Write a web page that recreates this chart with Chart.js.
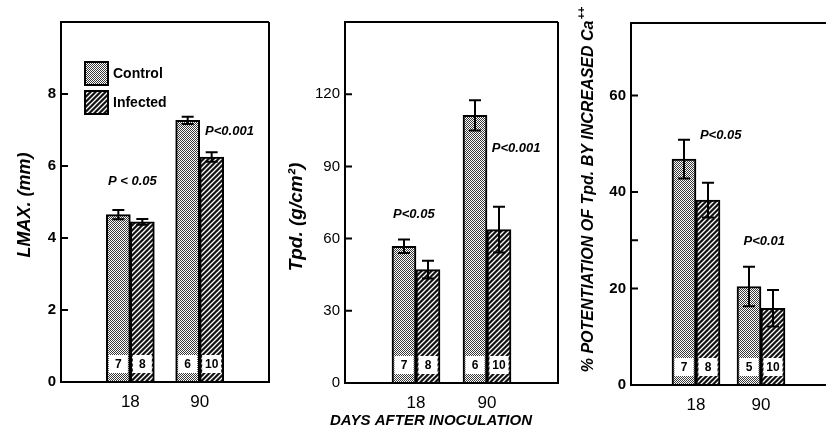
<!DOCTYPE html>
<html>
<head>
<meta charset="utf-8">
<script src="https://cdn.jsdelivr.net/npm/chart.js@4.4.0/dist/chart.umd.min.js"></script>
<style>
  html, body { margin: 0; padding: 0; background: #fff; overflow: hidden; }
  #wrap { position: relative; width: 836px; height: 444px; }
  canvas { position: absolute; left: 0; top: 0; }
</style>
</head>
<body>
<div id="wrap">
  <canvas id="c1" width="836" height="444"></canvas>
  <canvas id="c2" width="836" height="444"></canvas>
  <canvas id="c3" width="836" height="444"></canvas>
</div>
<script>
// Categories
var days = ['18', '90'];
var groupNames = ['Control', 'Infected'];

// Panel 1: L max (mm)
var lmaxControl = [4.65, 7.27];
var lmaxInfected = [4.45, 6.25];
var lmaxControlErr = [0.13, 0.1];
var lmaxInfectedErr = [0.08, 0.13];
var lmaxTicks = [0, 2, 4, 6, 8];
var lmaxTickLabels = ['0', '2', '4', '6', '8'];

// Panel 2: Tpd (g/cm2)
var tpdControl = [56.8, 111.2];
var tpdInfected = [47.1, 63.7];
var tpdControlErr = [2.8, 6.3];
var tpdInfectedErr = [3.7, 9.5];
var tpdTicks = [0, 30, 60, 90, 120];
var tpdTickLabels = ['0', '30', '60', '90', '120'];

// Panel 3: % potentiation of Tpd by increased Ca++
var potControl = [46.8, 20.4];
var potInfected = [38.3, 15.9];
var potControlErr = [4.0, 4.1];
var potInfectedErr = [3.6, 3.8];
var potTicks = [0, 20, 30, 40, 60];
var potTickLabels = ['0', '20', '', '40', '60'];

// Number of animals per bar
var nControl1 = [7, 6], nInfected1 = [8, 10];
var nControl2 = [7, 6], nInfected2 = [8, 10];
var nControl3 = [7, 5], nInfected3 = [8, 10];

// Significance notes
var pNotes1 = ['P < 0.05', 'P<0.001'];
var pNotes2 = ['P<0.05', 'P<0.001'];
var pNotes3 = ['P<0.05', 'P<0.01'];

var FONT = "'Liberation Sans', Arial, sans-serif";
Chart.defaults.font.family = FONT;
Chart.defaults.color = '#000';

function makeStipple() {
  var c = document.createElement('canvas');
  c.width = 2; c.height = 2;
  var x = c.getContext('2d');
  x.fillStyle = '#fff'; x.fillRect(0, 0, 2, 2);
  x.fillStyle = '#3a3a3a'; x.fillRect(0, 0, 1, 1); x.fillRect(1, 1, 1, 1);
  return x.createPattern(c, 'repeat');
}

function makeHatch() {
  var s = 5;
  var c = document.createElement('canvas');
  c.width = s; c.height = s;
  var x = c.getContext('2d');
  x.fillStyle = '#111'; x.fillRect(0, 0, s, s);
  x.strokeStyle = '#fff'; x.lineWidth = 1.3;
  x.beginPath();
  x.moveTo(0, s); x.lineTo(s, 0);
  x.moveTo(-1, 1); x.lineTo(1, -1);
  x.moveTo(s - 1, s + 1); x.lineTo(s + 1, s - 1);
  x.stroke();
  return x.createPattern(c, 'repeat');
}

var stipple = makeStipple();
var hatch = makeHatch();

// draws frame, inward ticks, error bars, n boxes, notes, titles, legend
function decor(cfg) {
  return {
    id: 'decor',
    afterDatasetsDraw: function(chart) {
      var ctx = chart.ctx, a = chart.chartArea;
      var xs = chart.scales.x, ys = chart.scales.y;
      ctx.save();
      ctx.strokeStyle = '#000';
      ctx.fillStyle = '#000';
      ctx.lineWidth = 2;

      // frame
      ctx.beginPath();
      ctx.moveTo(a.right, a.top);
      ctx.lineTo(a.left, a.top);
      ctx.lineTo(a.left, a.bottom);
      ctx.lineTo(a.right, a.bottom);
      if (cfg.rightSide) ctx.lineTo(a.right, a.top);
      ctx.stroke();

      // inward ticks
      ctx.beginPath();
      ys.ticks.forEach(function(t) {
        var y = ys.getPixelForValue(t.value);
        ctx.moveTo(a.left, y);
        ctx.lineTo(a.left + 7, y);
      });
      ctx.stroke();

      // error bars and n boxes
      [0, 1].forEach(function(d) {
        var meta = chart.getDatasetMeta(d);
        var vals = chart.data.datasets[d].data;
        meta.data.forEach(function(bar, i) {
          var v = vals[i];
          if (v === null || v === undefined) return;
          var e = cfg.err[d][i - 1];
          var yt = ys.getPixelForValue(v + e), yb = ys.getPixelForValue(v - e);
          ctx.lineWidth = 2;
          ctx.beginPath();
          ctx.moveTo(bar.x, yt); ctx.lineTo(bar.x, yb);
          ctx.moveTo(bar.x - 6, yt); ctx.lineTo(bar.x + 6, yt);
          ctx.moveTo(bar.x - 6, yb); ctx.lineTo(bar.x + 6, yb);
          ctx.stroke();

          var w = bar.width - 5;
          ctx.fillStyle = '#fff';
          ctx.fillRect(bar.x - w / 2, a.bottom - 27, w, 18);
          ctx.fillStyle = '#000';
          ctx.font = 'bold 12px ' + FONT;
          ctx.textAlign = 'center';
          ctx.textBaseline = 'middle';
          ctx.fillText(String(cfg.n[d][i - 1]), bar.x, a.bottom - 17.5);
        });
      });

      // significance notes
      ctx.font = 'italic bold 13px ' + FONT;
      ctx.textAlign = 'center';
      ctx.textBaseline = 'middle';
      cfg.notes.forEach(function(n) {
        ctx.fillText(n.text, xs.getPixelForValue(n.x), ys.getPixelForValue(n.y));
      });

      // rotated axis title
      var t = cfg.title;
      ctx.save();
      ctx.translate(t.x, t.y);
      ctx.rotate(-Math.PI / 2);
      ctx.font = 'italic bold ' + t.size + 'px ' + FONT;
      var supFont = 'italic bold ' + Math.round(t.size * 0.7) + 'px ' + FONT;
      var mainW = ctx.measureText(t.text).width;
      var supW = 0;
      if (t.sup) { ctx.font = supFont; supW = ctx.measureText(t.sup).width; }
      var x0 = -(mainW + supW) / 2;
      ctx.textAlign = 'left';
      ctx.textBaseline = 'middle';
      ctx.font = 'italic bold ' + t.size + 'px ' + FONT;
      ctx.fillText(t.text, x0, 0);
      if (t.sup) {
        ctx.font = supFont;
        ctx.fillText(t.sup, x0 + mainW + 1, -t.size * 0.45);
      }
      ctx.restore();

      // legend
      if (cfg.legend) {
        var lx = a.left + 24, ly = a.top + 40;
        [stipple, hatch].forEach(function(p, k) {
          var yy = ly + k * 29;
          ctx.fillStyle = p;
          ctx.fillRect(lx, yy, 23, 23);
          ctx.lineWidth = 2;
          ctx.strokeRect(lx, yy, 23, 23);
          ctx.fillStyle = '#000';
          ctx.font = 'bold 14px ' + FONT;
          ctx.textAlign = 'left';
          ctx.textBaseline = 'middle';
          ctx.fillText(groupNames[k], lx + 28, yy + 12);
        });
      }

      // shared x title
      if (cfg.bottomTitle) {
        ctx.font = 'italic bold 15px ' + FONT;
        ctx.textAlign = 'center';
        ctx.textBaseline = 'middle';
        ctx.fillText(cfg.bottomTitle.text, cfg.bottomTitle.x, cfg.bottomTitle.y);
      }
      ctx.restore();
    }
  };
}

function buildChart(id, cfg) {
  var pad = function(arr) { return [null].concat(arr, [null]); };
  return new Chart(document.getElementById(id), {
    type: 'bar',
    data: {
      labels: [''].concat(days, ['']),
      datasets: [
        { label: groupNames[0], data: pad(cfg.control), backgroundColor: stipple,
          borderColor: '#000', borderWidth: 2, barThickness: 24 },
        { label: groupNames[1], data: pad(cfg.infected), backgroundColor: hatch,
          borderColor: '#000', borderWidth: 2, barThickness: 24 }
      ]
    },
    options: {
      responsive: false,
      animation: false,
      layout: { padding: { left: cfg.left - 61, right: 836 - cfg.right, top: cfg.top, bottom: 0 } },
      plugins: { legend: { display: false }, tooltip: { enabled: false } },
      scales: {
        x: {
          type: 'category',
          offset: false,
          grid: { display: false, drawTicks: false },
          border: { display: false },
          ticks: { autoSkip: false, maxRotation: 0, padding: 10, font: { size: 17 } },
          afterFit: function(s) { s.height = 444 - cfg.bottom; }
        },
        y: {
          min: 0,
          max: cfg.max,
          grid: { display: false, drawTicks: false },
          border: { display: false },
          afterBuildTicks: function(s) {
            s.ticks = cfg.ticks.map(function(v) { return { value: v }; });
          },
          ticks: {
            padding: 5,
            font: { size: 15, weight: cfg.tickWeight },
            callback: function(v, i) { return cfg.tickLabels[i]; }
          },
          afterFit: function(s) { s.width = 61; }
        }
      }
    },
    plugins: [decor(cfg)]
  });
}

buildChart('c1', {
  left: 61, right: 269, top: 22, bottom: 382, max: 10,
  control: lmaxControl, infected: lmaxInfected,
  err: [lmaxControlErr, lmaxInfectedErr],
  n: [nControl1, nInfected1],
  ticks: lmaxTicks, tickLabels: lmaxTickLabels, tickWeight: 'bold',
  rightSide: true, legend: true,
  notes: [{ text: pNotes1[0], x: 1.03, y: 5.56 }, { text: pNotes1[1], x: 2.43, y: 6.97 }],
  title: { text: 'LMAX. (mm)', x: 25, y: 205, size: 18 }
});

buildChart('c2', {
  left: 345, right: 558, top: 22, bottom: 383, max: 150,
  control: tpdControl, infected: tpdInfected,
  err: [tpdControlErr, tpdInfectedErr],
  n: [nControl2, nInfected2],
  ticks: tpdTicks, tickLabels: tpdTickLabels, tickWeight: 'normal',
  rightSide: true,
  notes: [{ text: pNotes2[0], x: 0.97, y: 70 }, { text: pNotes2[1], x: 2.41, y: 97.5 }],
  title: { text: 'Tpd. (g/cm\u00b2)', x: 297, y: 217, size: 19 },
  bottomTitle: { text: 'DAYS AFTER INOCULATION', x: 431, y: 421 }
});

buildChart('c3', {
  left: 631, right: 836, top: 23, bottom: 385, max: 75,
  control: potControl, infected: potInfected,
  err: [potControlErr, potInfectedErr],
  n: [nControl3, nInfected3],
  ticks: potTicks, tickLabels: potTickLabels, tickWeight: 'bold',
  rightSide: false,
  notes: [{ text: pNotes3[0], x: 1.38, y: 51.8 }, { text: pNotes3[1], x: 2.05, y: 29.8 }],
  title: { text: '% POTENTIATION OF Tpd. BY INCREASED Ca', sup: '++', x: 589, y: 190, size: 16 }
});
</script>
</body>
</html>
